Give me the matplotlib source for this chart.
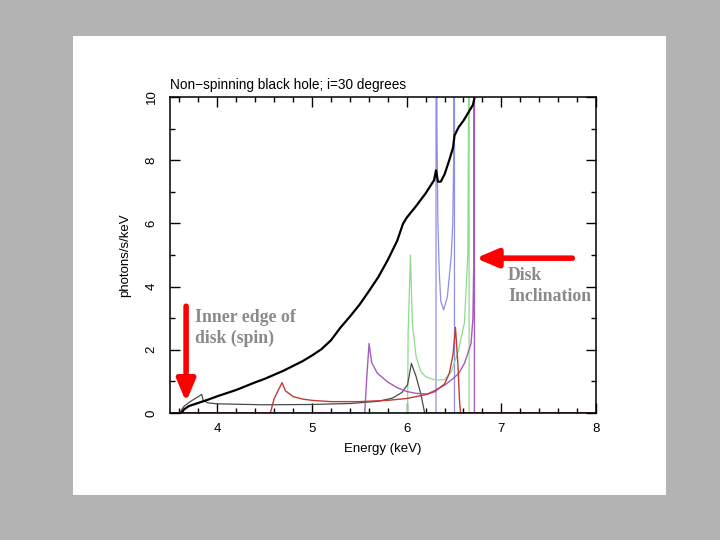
import matplotlib
matplotlib.use("Agg")
import matplotlib.pyplot as plt
from matplotlib.patches import Rectangle
from matplotlib.ticker import MultipleLocator

# ---------------- data ----------------
total_E = [3.62, 3.65, 3.70, 3.80, 3.90, 4.00, 4.10, 4.20, 4.30, 4.40, 4.50, 4.60, 4.70,
           4.80, 4.90, 5.00, 5.10, 5.20, 5.30, 5.40, 5.50, 5.60, 5.70, 5.80, 5.90, 5.96,
           6.00, 6.10, 6.20, 6.29, 6.31, 6.33, 6.36, 6.40, 6.45, 6.49, 6.505, 6.55, 6.60,
           6.65, 6.70, 6.715]
total_v = [0.00, 0.12, 0.22, 0.32, 0.42, 0.53, 0.63, 0.73, 0.85, 0.97, 1.08, 1.21, 1.34,
           1.49, 1.64, 1.82, 2.02, 2.30, 2.70, 3.05, 3.42, 3.85, 4.30, 4.84, 5.45, 5.98,
           6.18, 6.55, 6.95, 7.37, 7.68, 7.32, 7.32, 7.55, 8.00, 8.40, 8.78, 9.05, 9.25,
           9.50, 9.75, 9.95]

black_E = [3.50, 3.60, 3.65, 3.70, 3.75, 3.80, 3.835, 3.85, 3.90, 4.00, 4.50, 5.00, 5.40,
           5.70, 5.85, 5.95, 6.01, 6.05, 6.10, 6.15, 6.19, 8.00]
black_v = [0.00, 0.00, 0.22, 0.33, 0.43, 0.52, 0.59, 0.40, 0.32, 0.29, 0.26, 0.27, 0.30,
           0.37, 0.47, 0.65, 0.90, 1.57, 1.15, 0.60, 0.00, 0.00]

red_E = [3.50, 4.56, 4.60, 4.64, 4.684, 4.72, 4.80, 4.90, 5.00, 5.20, 5.50, 5.80, 6.00,
         6.20, 6.30, 6.40, 6.45, 6.49, 6.515, 6.54, 6.56, 6.57, 8.00]
red_v = [0.00, 0.00, 0.45, 0.70, 0.96, 0.70, 0.52, 0.44, 0.40, 0.36, 0.36, 0.40, 0.46,
         0.58, 0.68, 0.92, 1.25, 1.85, 2.71, 1.60, 0.30, 0.00, 0.00]

magenta_E = [3.50, 5.557, 5.58, 5.603, 5.63, 5.69, 5.80, 5.90, 6.00, 6.10, 6.22, 6.30,
             6.40, 6.47, 6.55, 6.61, 6.68, 6.70, 6.71, 6.716, 6.716, 8.00]
magenta_v = [0.00, 0.00, 1.20, 2.20, 1.60, 1.26, 0.98, 0.80, 0.68, 0.62, 0.60, 0.72,
             0.88, 1.04, 1.25, 1.57, 2.20, 3.00, 5.00, 30.0, 0.00, 0.00]

green_E = [3.50, 6.01, 6.015, 6.04, 6.06, 6.10, 6.15, 6.20, 6.26, 6.33, 6.40, 6.47, 6.54,
           6.61, 6.646, 6.655, 6.657, 6.66, 8.00]
green_v = [0.00, 0.00, 2.50, 5.00, 2.84, 1.78, 1.31, 1.15, 1.08, 1.04, 1.06, 1.30, 1.90,
           2.85, 5.00, 10.0, 30.0, 0.00, 0.00]

blue_E = [3.50, 6.31, 6.31, 6.32, 6.33, 6.345, 6.36, 6.39, 6.43, 6.47, 6.487, 6.497,
          6.505, 6.505, 8.00]
blue_v = [0.00, 0.00, 30.0, 9.00, 6.00, 4.42, 3.55, 3.26, 3.68, 4.95, 6.00, 8.20,
          30.0, 0.00, 0.00]

x_ticks = [4, 5, 6, 7, 8]
y_ticks = [0, 2, 4, 6, 8, 10]

# ---------------- figure ----------------
W, H = 720, 540
fig = plt.figure(figsize=(W / 100, H / 100), dpi=100)
fig.patch.set_facecolor("#b3b3b3")
fig.add_artist(Rectangle((73 / W, 1 - 495 / H), (666 - 73) / W, (495 - 36) / H,
                         transform=fig.transFigure, facecolor="white",
                         edgecolor="none", zorder=0))

ax = fig.add_axes([170 / W, 1 - 413 / H, (596 - 170) / W, (413 - 97) / H])
ax.set_facecolor("white")

sans = ["Liberation Sans", "DejaVu Sans"]
serif = ["Liberation Serif", "DejaVu Serif"]

ax.plot(blue_E, blue_v, color="#8f8fe6", lw=0.9, zorder=2)
ax.plot(green_E, green_v, color="#8ddc8d", lw=0.9, zorder=2.1)
ax.plot(black_E, black_v, color="#4a4a4a", lw=0.9, zorder=2.2)
ax.plot(magenta_E, magenta_v, color="#a35cc0", lw=1.0, zorder=2.25)
ax.plot(red_E, red_v, color="#c23a3a", lw=1.0, zorder=2.3)
ax.plot(total_E, total_v, color="black", lw=1.6, zorder=3)

ax.set_xlim(3.5, 8)
ax.set_ylim(0, 10)
ax.set_xticks(x_ticks)
ax.set_yticks(y_ticks)
ax.xaxis.set_minor_locator(MultipleLocator(0.2))
ax.yaxis.set_minor_locator(MultipleLocator(1))
ax.tick_params(which="both", direction="in", top=True, right=True, width=1.0,
               labelsize=9.5)
ax.tick_params(which="major", length=7)
ax.tick_params(which="minor", length=3.5)
ax.tick_params(axis="x", pad=7)
ax.tick_params(axis="y", pad=9)
for lab in ax.get_yticklabels():
    lab.set_rotation(90)
    lab.set_va("center")
    lab.set_family(sans)
for lab in ax.get_xticklabels():
    lab.set_family(sans)
for s in ax.spines.values():
    s.set_linewidth(1.1)

ax.set_xlabel("Energy (keV)", fontsize=9.5, family=sans, labelpad=6)
ax.set_ylabel("photons/s/keV", fontsize=9.5, family=sans, labelpad=10)
ax.set_title("Non\u2212spinning black hole; i=30 degrees", fontsize=9.8,
             family=sans, loc="left", pad=6)

# ---------------- annotations ----------------
ax.annotate("", xy=(3.67, 0.35), xytext=(3.67, 3.38), xycoords="data",
            arrowprops=dict(arrowstyle="-|>,head_length=1.3,head_width=0.55",
                            color="#ff0000", lw=4, shrinkA=0, shrinkB=0),
            annotation_clip=False, zorder=5)
ax.text(3.765, 2.69, "Inner edge of\ndisk (spin)", ha="left", va="center",
        fontsize=12.8, fontweight="bold", color="#8a8a8a", family=serif,
        linespacing=1.3, zorder=6)

ax.annotate("", xy=(6.73, 4.9), xytext=(7.75, 4.9), xycoords="data",
            arrowprops=dict(arrowstyle="-|>,head_length=1.3,head_width=0.55",
                            color="#ff0000", lw=4, shrinkA=0, shrinkB=0),
            annotation_clip=False, zorder=5)
ax.text(7.07, 4.02, "Disk\nInclination", ha="left", va="center",
        fontsize=12.8, fontweight="bold", color="#8a8a8a", family=serif,
        linespacing=1.3, zorder=6)

fig.savefig("out.png", dpi=100, facecolor=fig.get_facecolor())
